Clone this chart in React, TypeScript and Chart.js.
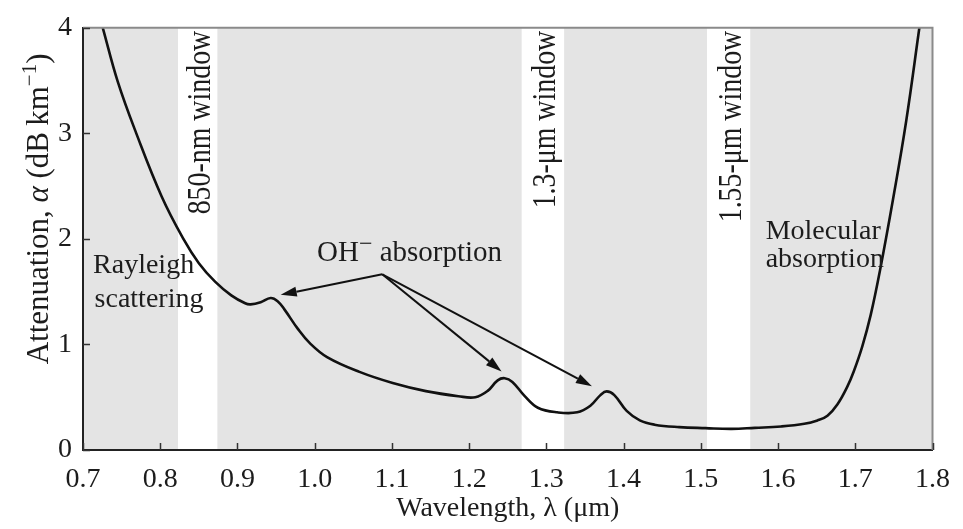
import { useEffect, useRef } from "react";
import { Chart, registerables } from "chart.js";

Chart.register(...registerables);

const SERIF = '"Liberation Serif", "DejaVu Serif", serif';
const INK = "#1c1c1c";

// Attenuation curve of silica fibre (wavelength in µm, loss in dB/km)
const wavelength = [
  0.7256, 0.745, 0.769, 0.802, 0.83, 0.85, 0.871, 0.892, 0.91, 0.917, 0.93, 0.943,
  0.952, 0.961, 0.978, 0.994, 1.016, 1.058, 1.101, 1.144, 1.186, 1.208, 1.224,
  1.237, 1.246, 1.256, 1.272, 1.289, 1.314, 1.34, 1.357, 1.37, 1.378, 1.388,
  1.404, 1.421, 1.44, 1.472, 1.506, 1.54, 1.57, 1.604, 1.634, 1.651, 1.664,
  1.677, 1.69, 1.698, 1.709, 1.72, 1.732, 1.749, 1.766, 1.783,
];
const attenuation = [
  4.0, 3.49, 3.0, 2.4, 2.0, 1.77, 1.595, 1.465, 1.39, 1.38, 1.4, 1.44,
  1.41, 1.33, 1.15, 1.01, 0.88, 0.74, 0.635, 0.558, 0.51, 0.5, 0.56,
  0.66, 0.68, 0.645, 0.51, 0.4, 0.357, 0.357, 0.42, 0.52, 0.555, 0.52,
  0.37, 0.28, 0.24, 0.217, 0.207, 0.2, 0.21, 0.223, 0.248, 0.28, 0.325,
  0.434, 0.605, 0.744, 0.98, 1.28, 1.7, 2.38, 3.12, 4.0,
];

// Low-loss transmission windows
const windowStart = [0.823, 1.268, 1.508];
const windowEnd = [0.874, 1.323, 1.564];
const windowLabels = ["850-nm window", "1.3-μm window", "1.55-μm window"];

// OH⁻ absorption arrows: common origin and the three peaks they point at
const ohOriginX = 1.0875;
const ohOriginY = 1.665;
const ohTargetX = [0.956, 1.242, 1.359];
const ohTargetY = [1.47, 0.744, 0.605];

type Run = { t: string; size: number; italic?: boolean; rise?: number };

function runsWidth(ctx: CanvasRenderingContext2D, runs: Run[]) {
  let w = 0;
  for (const r of runs) {
    ctx.font = `${r.italic ? "italic " : ""}${r.size}px ${SERIF}`;
    w += ctx.measureText(r.t).width;
  }
  return w;
}

function drawRuns(ctx: CanvasRenderingContext2D, runs: Run[], x: number, y: number) {
  let cx = x;
  for (const r of runs) {
    ctx.font = `${r.italic ? "italic " : ""}${r.size}px ${SERIF}`;
    ctx.fillText(r.t, cx, y - (r.rise ?? 0));
    cx += ctx.measureText(r.t).width;
  }
}

const backdrop = {
  id: "backdrop",
  beforeDraw(chart: any) {
    const { ctx, chartArea: a, scales } = chart;
    ctx.save();
    ctx.fillStyle = "#e4e4e4";
    ctx.fillRect(a.left, a.top, a.right - a.left, a.bottom - a.top);
    ctx.fillStyle = "#ffffff";
    for (let i = 0; i < windowStart.length; i++) {
      const x0 = scales.x.getPixelForValue(windowStart[i]);
      const x1 = scales.x.getPixelForValue(windowEnd[i]);
      ctx.fillRect(x0, a.top, x1 - x0, a.bottom - a.top);
    }
    ctx.restore();
  },
};

const annotations = {
  id: "annotations",
  afterDraw(chart: any) {
    const { ctx, chartArea: a, scales } = chart;
    const X = (v: number) => scales.x.getPixelForValue(v);
    const Y = (v: number) => scales.y.getPixelForValue(v);
    ctx.save();

    // frame: top and right edges
    ctx.strokeStyle = "#8a8a8a";
    ctx.lineWidth = 2;
    ctx.beginPath();
    ctx.moveTo(a.left, a.top);
    ctx.lineTo(a.right, a.top);
    ctx.lineTo(a.right, a.bottom);
    ctx.stroke();

    // inward tick marks
    ctx.strokeStyle = "#333";
    ctx.lineWidth = 1.5;
    ctx.beginPath();
    for (const t of scales.x.ticks) {
      const px = Math.round(X(t.value)) + 0.5;
      ctx.moveTo(px, a.bottom);
      ctx.lineTo(px, a.bottom - 7);
    }
    for (const t of scales.y.ticks) {
      const py = Math.round(Y(t.value)) + 0.5;
      ctx.moveTo(a.left, py);
      ctx.lineTo(a.left + 7, py);
    }
    ctx.stroke();

    ctx.fillStyle = INK;
    ctx.textBaseline = "alphabetic";
    ctx.textAlign = "left";

    // window labels, reading bottom to top
    const wSize = 34;
    for (let i = 0; i < windowLabels.length; i++) {
      const cx = (X(windowStart[i]) + X(windowEnd[i])) / 2;
      ctx.save();
      ctx.translate(cx + wSize * 0.36, a.top + 3);
      ctx.rotate(-Math.PI / 2);
      ctx.scale(0.82, 1);
      ctx.font = `${wSize}px ${SERIF}`;
      ctx.textAlign = "right";
      ctx.fillText(windowLabels[i], 0, 0);
      ctx.restore();
    }

    // region labels
    const fs = 28;
    drawRuns(ctx, [{ t: "Rayleigh", size: fs }], X(0.713), Y(1.674));
    drawRuns(ctx, [{ t: "scattering", size: fs }], X(0.715), Y(1.358));
    drawRuns(ctx, [{ t: "Molecular", size: fs }], X(1.584), Y(2.0));
    drawRuns(ctx, [{ t: "absorption", size: fs }], X(1.584), Y(1.73));
    drawRuns(
      ctx,
      [
        { t: "OH", size: 29 },
        { t: "−", size: 24, rise: 10 },
        { t: " absorption", size: 29 },
      ],
      X(1.003),
      Y(1.786)
    );

    // arrows from the OH⁻ label to the absorption peaks
    ctx.strokeStyle = "#111";
    ctx.fillStyle = "#111";
    ctx.lineWidth = 2;
    const ox = X(ohOriginX);
    const oy = Y(ohOriginY);
    for (let i = 0; i < ohTargetX.length; i++) {
      const tx = X(ohTargetX[i]);
      const ty = Y(ohTargetY[i]);
      const ang = Math.atan2(ty - oy, tx - ox);
      const len = 16;
      const half = 5;
      const bx = tx - len * Math.cos(ang);
      const by = ty - len * Math.sin(ang);
      ctx.beginPath();
      ctx.moveTo(ox, oy);
      ctx.lineTo(bx, by);
      ctx.stroke();
      ctx.beginPath();
      ctx.moveTo(tx, ty);
      ctx.lineTo(bx + half * Math.sin(ang), by - half * Math.cos(ang));
      ctx.lineTo(bx - half * Math.sin(ang), by + half * Math.cos(ang));
      ctx.closePath();
      ctx.fill();
    }

    // y-axis title
    ctx.fillStyle = INK;
    const ts = 31;
    const titleRuns: Run[] = [
      { t: "Attenuation, ", size: ts },
      { t: "α", size: ts, italic: true },
      { t: " (dB\u2009km", size: ts },
      { t: "−1", size: 21, rise: 12 },
      { t: ")", size: ts },
    ];
    const w = runsWidth(ctx, titleRuns);
    ctx.save();
    ctx.translate(a.left - 35, (a.top + a.bottom) / 2 - 30);
    ctx.rotate(-Math.PI / 2);
    drawRuns(ctx, titleRuns, -w / 2, 0);
    ctx.restore();

    ctx.restore();
  },
};

export default function App() {
  const ref = useRef<HTMLCanvasElement>(null);

  useEffect(() => {
    document.body.style.margin = "0";
    const canvas = ref.current;
    if (!canvas) return;
    const tickFont = { family: SERIF, size: 28 };
    const chart = new Chart(canvas, {
      type: "line",
      data: {
        datasets: [
          {
            data: wavelength.map((x, i) => ({ x, y: attenuation[i] })),
            borderColor: "#111",
            borderWidth: 2.6,
            pointRadius: 0,
            tension: 0.4,
            fill: false,
          },
        ],
      },
      options: {
        responsive: false,
        animation: false,
        layout: { padding: { top: 20, right: 20, left: 0, bottom: 4 } },
        plugins: { legend: { display: false }, tooltip: { enabled: false } },
        scales: {
          x: {
            type: "linear",
            min: 0.7,
            max: 1.8,
            afterFit: (s: any) => {
              s.height = 75;
            },
            grid: { display: false, drawTicks: false },
            border: { display: true, color: "#222", width: 2 },
            ticks: {
              stepSize: 0.1,
              autoSkip: false,
              maxRotation: 0,
              padding: 13,
              color: INK,
              font: tickFont,
              callback: (v: any) => Number(v).toFixed(1),
            },
            title: {
              display: true,
              text: "Wavelength, λ (μm)",
              color: INK,
              font: { family: SERIF, size: 28 },
              padding: { top: 0, bottom: 0 },
            },
          },
          y: {
            min: 0,
            max: 4,
            afterFit: (s: any) => {
              s.width = 83;
            },
            grid: { display: false, drawTicks: false },
            border: { display: true, color: "#222", width: 2 },
            ticks: {
              stepSize: 1,
              padding: 11,
              color: INK,
              font: tickFont,
            },
          },
        },
      },
      plugins: [backdrop, annotations],
    } as any);
    return () => chart.destroy();
  }, []);

  return (
    <div style={{ width: 963, height: 529 }}>
      <canvas ref={ref} width={963} height={529} style={{ display: "block" }} />
    </div>
  );
}
